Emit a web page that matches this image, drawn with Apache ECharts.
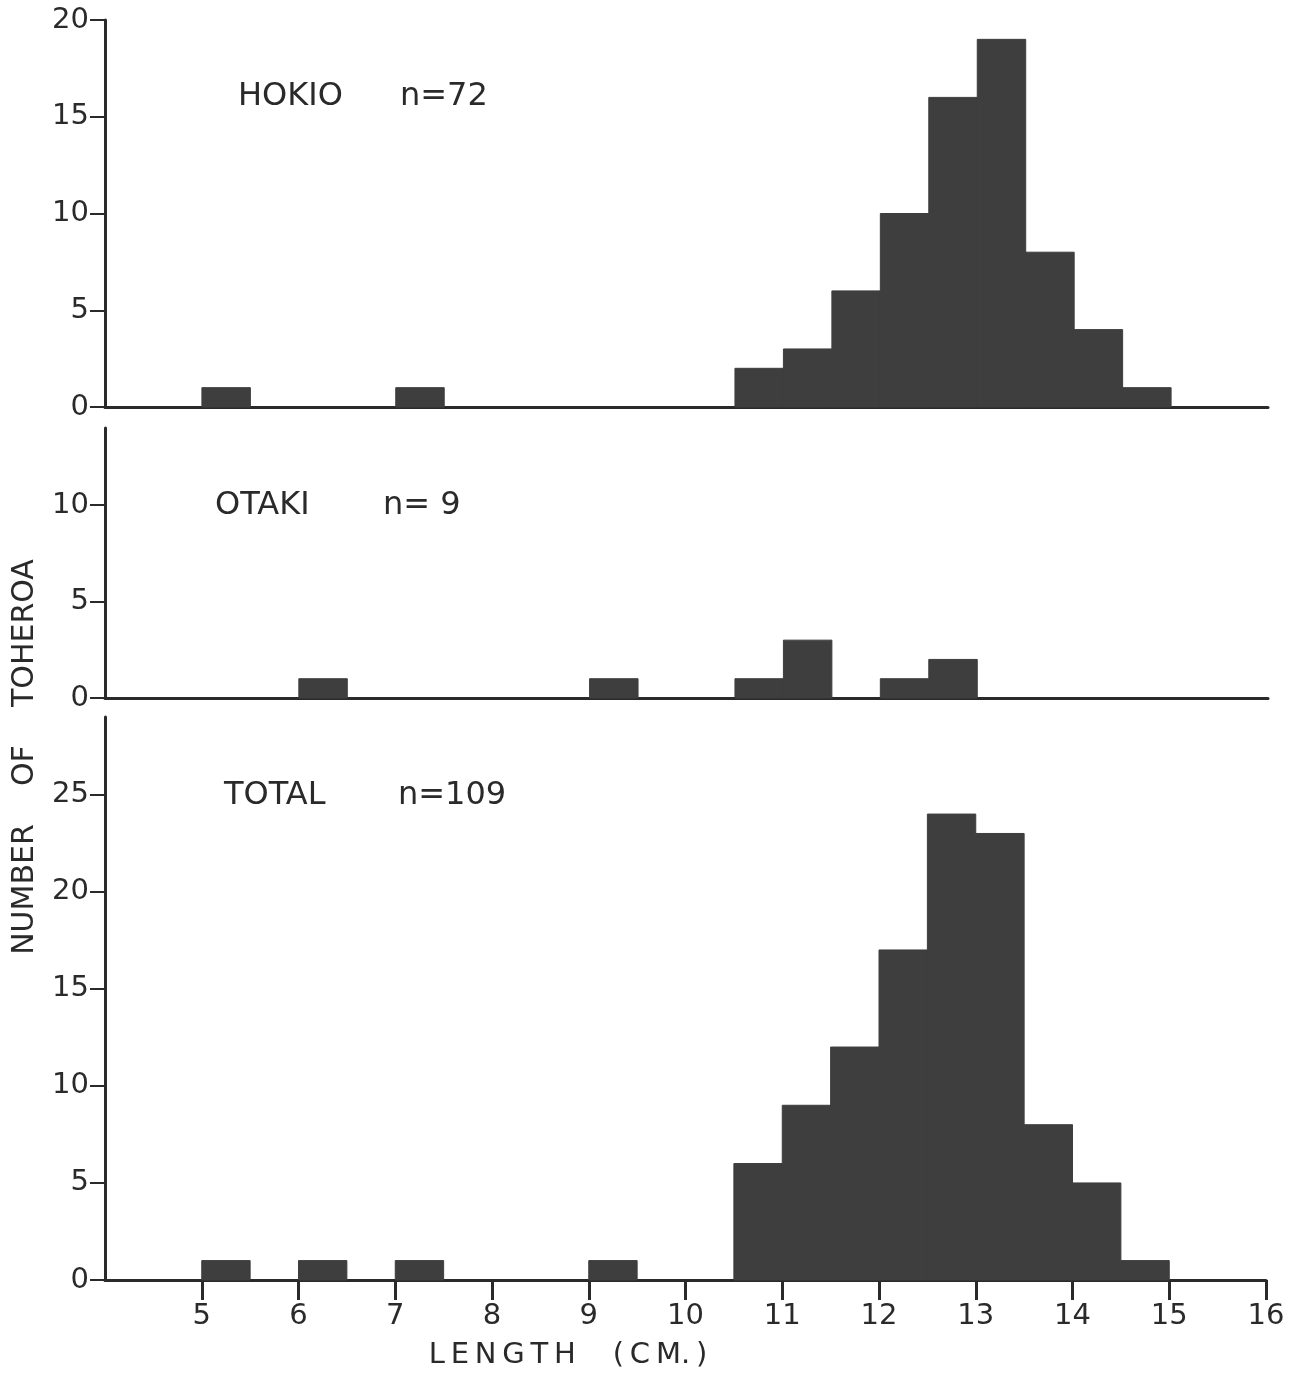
<!DOCTYPE html>
<html>
<head>
<meta charset="utf-8">
<script src="https://cdn.jsdelivr.net/npm/echarts@6/dist/echarts.min.js"></script>
<style>
  html, body { margin: 0; padding: 0; background: #fff; }
  #chart { width: 1298px; height: 1374px; }
</style>
</head>
<body>
<div id="chart"></div>
<script>
// lower edge of each 0.5 cm length class
const binLeft = [5, 5.5, 6, 6.5, 7, 7.5, 8, 8.5, 9, 9.5, 10, 10.5, 11, 11.5, 12, 12.5, 13, 13.5, 14, 14.5];
const binWidth = 0.5;

const hokioCounts = [1, 0, 0, 0, 1, 0, 0, 0, 0, 0, 0, 2, 3, 6, 10, 16, 19, 8, 4, 1];
const otakiCounts = [0, 0, 1, 0, 0, 0, 0, 0, 1, 0, 0, 1, 3, 0, 1, 2, 0, 0, 0, 0];
const totalCounts = [1, 0, 1, 0, 1, 0, 0, 0, 1, 0, 0, 6, 9, 12, 17, 24, 23, 8, 5, 1];

const xTicks = [5, 6, 7, 8, 9, 10, 11, 12, 13, 14, 15, 16];
const hokioTicks = [0, 5, 10, 15, 20];
const otakiTicks = [0, 5, 10];
const totalTicks = [0, 5, 10, 15, 20, 25];

const ink = '#2a2a2a';
const barColor = '#3e3e3e';
const font = 'DejaVu Sans';
const labelFont = '32px "DejaVu Sans"';

function histData(counts) {
  return binLeft
    .map((x, i) => [x, x + binWidth, counts[i]])
    .filter(d => d[2] > 0);
}

function renderBin(params, api) {
  const topLeft = api.coord([api.value(0), api.value(2)]);
  const bottomRight = api.coord([api.value(1), 0]);
  return {
    type: 'rect',
    shape: {
      x: topLeft[0],
      y: topLeft[1],
      width: bottomRight[0] - topLeft[0],
      height: bottomRight[1] - topLeft[1]
    },
    style: { fill: barColor, stroke: barColor, lineWidth: 1 }
  };
}

function xAxis(grid, showTicks) {
  return {
    type: 'value', gridIndex: grid, min: 4, max: 16,
    splitLine: { show: false },
    axisLine: { show: true, onZero: false, lineStyle: { color: ink, width: 3 } },
    axisTick: { show: showTicks, customValues: xTicks, length: 20, lineStyle: { color: ink, width: 3 } },
    axisLabel: { show: showTicks, customValues: xTicks, margin: 22, fontSize: 29, color: ink, fontFamily: font }
  };
}

function yAxis(grid, max, ticks) {
  return {
    type: 'value', gridIndex: grid, min: 0, max: max,
    splitLine: { show: false },
    axisLine: { show: true, lineStyle: { color: ink, width: 3 } },
    axisTick: { show: true, customValues: ticks, length: 15, lineStyle: { color: ink, width: 2 } },
    axisLabel: { customValues: ticks, margin: 16, fontSize: 29, color: ink, fontFamily: font }
  };
}

function panelLabel(x, y, text) {
  return { type: 'text', x: x, y: y, style: { text: text, font: labelFont, fill: ink, verticalAlign: 'middle' } };
}

const chart = echarts.init(document.getElementById('chart'));
chart.setOption({
  animation: false,
  backgroundColor: '#fff',
  grid: [
    { left: 105, right: 30, top: 20, height: 387 },
    { left: 105, right: 30, top: 428, height: 270 },
    { left: 105, right: 32, top: 717, height: 563 }
  ],
  xAxis: [xAxis(0, false), xAxis(1, false), xAxis(2, true)],
  yAxis: [yAxis(0, 20, hokioTicks), yAxis(1, 14, otakiTicks), yAxis(2, 29, totalTicks)],
  series: [
    { type: 'custom', xAxisIndex: 0, yAxisIndex: 0, renderItem: renderBin, data: histData(hokioCounts), z: 1 },
    { type: 'custom', xAxisIndex: 1, yAxisIndex: 1, renderItem: renderBin, data: histData(otakiCounts), z: 1 },
    { type: 'custom', xAxisIndex: 2, yAxisIndex: 2, renderItem: renderBin, data: histData(totalCounts), z: 1 }
  ],
  graphic: [
    panelLabel(238, 97, 'HOKIO'),
    panelLabel(400, 97, 'n=72'),
    panelLabel(215, 506, 'OTAKI'),
    panelLabel(383, 506, 'n= 9'),
    panelLabel(224, 796, 'TOTAL'),
    panelLabel(398, 796, 'n=109'),
    { type: 'text', x: 568, y: 1355, style: { text: 'L\u2009E\u2009N\u2009G\u2009T\u2009H    (\u2009C\u2009M.\u2009)', font: '29px "DejaVu Sans"', fill: ink, align: 'center', verticalAlign: 'middle' } },
    { type: 'text', x: 25, y: 757, rotation: Math.PI / 2, style: { text: 'NUMBER    OF    TOHEROA', font: '30px "DejaVu Sans"', fill: ink, align: 'center', verticalAlign: 'middle' } }
  ]
});
</script>
</body>
</html>
